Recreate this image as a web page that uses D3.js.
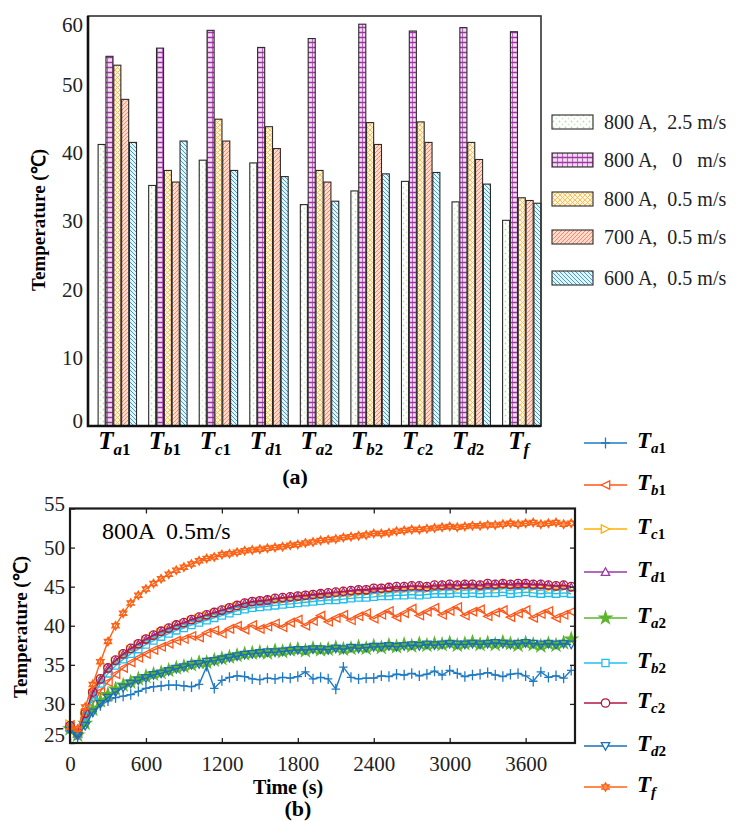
<!DOCTYPE html>
<html lang="en">
<head>
<meta charset="utf-8">
<title>Temperature: bars and time curves</title>
<style>
  body { margin: 0; background: #fff; }
</style>
</head>
<body>
<script src="https://cdn.jsdelivr.net/npm/d3@7"></script>
<script>
// ---- data, chart (a) ----
var barCats = ["a1", "b1", "c1", "d1", "a2", "b2", "c2", "d2", "f"];
var barNames = ["800 A,  2.5 m/s", "800 A,   0   m/s", "800 A,  0.5 m/s", "700 A,  0.5 m/s", "600 A,  0.5 m/s"];
var v800a25 = [41.2, 35.2, 38.9, 38.5, 32.4, 34.4, 35.8, 32.8, 30.1];
var v800a0  = [54.1, 55.3, 57.9, 55.4, 56.7, 58.8, 57.8, 58.3, 57.7];
var v800a05 = [52.8, 37.4, 44.9, 43.8, 37.4, 44.4, 44.5, 41.5, 33.4];
var v700a05 = [47.8, 35.7, 41.7, 40.6, 35.7, 41.2, 41.5, 39.0, 33.0];
var v600a05 = [41.5, 41.7, 37.4, 36.5, 32.9, 36.9, 37.1, 35.4, 32.6];
var barTicks = [0, 10, 20, 30, 40, 50, 60];

// ---- data, chart (b) ----
var times = [0,60,120,180,240,300,360,420,480,540,600,660,720,780,840,900,960,1020,1080,1140,
  1200,1260,1320,1380,1440,1500,1560,1620,1680,1740,1800,1860,1920,1980,2040,2100,2160,2220,2280,2340,
  2400,2460,2520,2580,2640,2700,2760,2820,2880,2940,3000,3060,3120,3180,3240,3300,3360,3420,3480,3540,
  3600,3660,3720,3780,3840,3900,3960];
var tA1 = [26.5,25.8,27.8,29.0,29.8,30.4,30.8,31.0,31.2,31.6,32.0,32.2,32.3,32.4,32.4,32.3,32.2,32.5,34.8,32.0,
  33.0,33.4,33.6,33.5,33.2,33.1,33.3,33.2,33.4,33.3,33.5,34.1,33.2,33.4,33.2,31.9,34.7,33.4,33.2,33.3,
  33.3,33.6,33.5,33.8,33.7,33.9,33.6,33.8,34.2,33.7,34.3,33.9,33.5,33.7,33.8,34.0,33.7,33.5,33.8,33.9,
  33.6,32.9,34.1,33.4,33.6,33.3,34.3];
var tB1 = [27.3,26.5,28.0,30.0,31.6,32.8,33.8,34.6,35.3,35.9,36.4,36.9,37.3,37.7,38.1,38.3,38.7,38.5,39.1,39.4,
  39.0,39.6,40.0,39.5,40.1,39.6,39.9,40.3,39.8,40.4,40.8,40.0,40.6,41.3,40.5,41.0,41.4,40.7,41.2,41.6,
  40.9,41.4,41.9,41.1,41.6,42.2,41.3,41.8,42.3,41.4,41.9,42.4,41.3,41.8,42.1,41.2,41.7,42.0,41.1,41.6,
  42.0,41.0,41.5,41.9,41.0,41.4,41.8];
var tC1 = [27.4,26.4,28.7,31.3,33.0,34.4,35.4,36.2,36.9,37.5,38.1,38.6,39.1,39.5,39.9,40.2,40.6,40.9,41.2,41.5,
  41.8,42.1,42.4,42.6,42.8,43.0,43.1,43.2,43.3,43.4,43.5,43.6,43.7,43.8,43.9,44.0,44.1,44.1,44.2,44.3,
  44.4,44.4,44.5,44.6,44.6,44.7,44.7,44.7,44.8,44.8,44.9,44.8,44.9,44.9,44.8,45.0,44.9,45.0,44.9,45.0,
  45.0,44.9,44.9,44.8,44.8,44.9,44.7];
var tD1 = [27.0,26.2,28.6,31.3,33.1,34.5,35.5,36.3,37.0,37.6,38.2,38.7,39.2,39.6,40.0,40.3,40.7,41.0,41.3,41.6,
  41.9,42.2,42.5,42.8,43.0,43.1,43.2,43.4,43.5,43.6,43.7,43.8,43.9,44.0,44.1,44.2,44.3,44.4,44.5,44.5,
  44.6,44.7,44.8,44.8,44.9,45.0,45.0,44.9,45.0,45.1,45.1,45.1,45.2,45.1,45.1,45.2,45.2,45.3,45.2,45.2,
  45.3,45.2,45.2,45.1,45.0,45.1,44.9];
var tA2 = [26.8,26.0,27.5,29.3,30.4,31.2,31.9,32.4,32.8,33.2,33.5,33.8,34.0,34.3,34.6,34.8,35.0,35.3,35.3,35.6,
  35.8,36.0,36.2,36.4,36.5,36.6,36.5,36.8,36.7,36.9,37.0,36.8,37.1,36.9,37.0,37.2,37.0,37.1,37.3,37.1,
  37.4,37.2,37.5,37.3,37.6,37.4,37.7,37.5,37.7,37.6,37.8,37.5,37.7,37.9,37.6,37.8,37.6,37.9,37.7,37.5,
  37.8,37.6,37.4,37.7,37.5,37.8,38.3];
var tB2 = [27.0,26.2,28.4,30.9,32.6,33.9,34.9,35.7,36.4,37.0,37.6,38.1,38.6,39.0,39.4,39.7,40.1,40.4,40.7,41.0,
  41.3,41.6,41.9,42.1,42.3,42.4,42.5,42.6,42.7,42.8,42.9,43.0,43.1,43.2,43.3,43.3,43.4,43.5,43.6,43.6,
  43.7,43.8,43.8,43.9,43.9,44.0,43.9,44.0,44.1,44.1,44.1,44.2,44.1,44.2,44.1,44.2,44.2,44.3,44.1,44.2,
  44.3,44.2,44.1,44.2,44.1,44.2,44.1];
var tC2 = [27.2,26.3,28.8,31.5,33.2,34.6,35.6,36.4,37.1,37.7,38.3,38.8,39.3,39.7,40.1,40.4,40.8,41.1,41.4,41.7,
  42.0,42.3,42.6,42.9,43.1,43.2,43.3,43.5,43.6,43.7,43.8,43.9,44.0,44.1,44.2,44.3,44.4,44.5,44.6,44.6,
  44.8,44.8,44.9,45.0,45.0,45.1,45.1,45.0,45.2,45.2,45.3,45.2,45.3,45.3,45.2,45.4,45.3,45.4,45.3,45.4,
  45.4,45.3,45.3,45.2,45.1,45.2,45.0];
var tD2 = [26.6,25.9,27.2,28.9,30.0,30.8,31.5,32.1,32.6,33.0,33.3,33.7,33.9,34.2,34.5,34.7,35.0,35.1,35.4,35.5,
  35.7,35.9,36.1,36.3,36.4,36.5,36.6,36.6,36.7,36.8,36.9,36.9,37.0,37.0,36.9,37.1,37.0,37.2,37.1,37.2,
  37.3,37.3,37.4,37.3,37.4,37.5,37.4,37.6,37.5,37.6,37.7,37.6,37.6,37.7,37.6,37.7,37.8,37.7,37.6,37.7,
  37.8,37.7,37.6,37.7,37.6,37.7,37.6];
var tF = [27.0,26.8,29.6,32.5,35.4,38.0,40.0,41.6,42.9,43.9,44.7,45.4,46.0,46.6,47.1,47.5,47.9,48.3,48.6,48.8,
  49.1,49.2,49.4,49.6,49.7,49.8,49.9,50.0,50.1,50.3,50.4,50.6,50.7,50.9,51.0,51.1,51.3,51.4,51.5,51.6,
  51.8,51.8,51.9,52.1,52.2,52.3,52.3,52.4,52.5,52.6,52.7,52.6,52.7,52.8,52.8,52.9,52.9,53.0,53.1,53.0,
  53.1,53.2,53.0,53.1,53.2,53.0,53.1];
var timeTicks = [0, 600, 1200, 1800, 2400, 3000, 3600];
var tempTicks = [25, 30, 35, 40, 45, 50, 55];

var serif = "'Liberation Serif', serif";
var w = 737, h = 821;
var svg = d3.select("body").append("svg")
  .attr("width", w).attr("height", h);

// ---- fill patterns for the bars ----
var defs = svg.append("defs");
function pat(id, size, bg) {
  var p = defs.append("pattern").attr("id", id)
    .attr("patternUnits", "userSpaceOnUse").attr("width", size).attr("height", size);
  p.append("rect").attr("width", size).attr("height", size).attr("fill", bg);
  return p;
}
var p0 = pat("p0", 6, "#ffffff");
p0.append("circle").attr("cx", 1.5).attr("cy", 1.5).attr("r", 0.9).attr("fill", "#b9dfa6");
p0.append("circle").attr("cx", 4.5).attr("cy", 4.5).attr("r", 0.9).attr("fill", "#d3ecc6");
var p1 = pat("p1", 5, "#f4dcf4");
p1.append("path").attr("d", "M2.5,0V5").attr("stroke", "#bb66be").attr("stroke-width", 1.1);
p1.append("path").attr("d", "M0,2.5H5").attr("stroke", "#9e37a3").attr("stroke-width", 1.5);
var p2 = pat("p2", 5, "#fff4de");
p2.append("path").attr("d", "M0,0L5,5M5,0L0,5").attr("stroke", "#ffbb4d").attr("stroke-width", 0.9);
var p3 = pat("p3", 4, "#ffdccf");
p3.append("path").attr("d", "M-1,1L1,-1M0,4L4,0M3,5L5,3").attr("stroke", "#fb7f57").attr("stroke-width", 0.9);
var p4 = pat("p4", 4, "#e4f4fb");
p4.append("path").attr("d", "M-1,3L1,5M0,0L4,4M3,-1L5,1").attr("stroke", "#2f9fd3").attr("stroke-width", 0.95);

var barSeries = [v800a25, v800a0, v800a05, v700a05, v600a05];
var barFills = ["url(#p0)", "url(#p1)", "url(#p2)", "url(#p3)", "url(#p4)"];

// ================= chart (a) =================
var A = { left: 88, right: 541, top: 16, bottom: 426 };
var x0 = d3.scaleBand().domain(barCats).range([A.left, A.right])
  .paddingInner(0.24).paddingOuter(0.1).align(1);
var x1 = d3.scaleBand().domain(d3.range(barSeries.length))
  .range([0, x0.bandwidth()]).paddingInner(0.1);
var yA = d3.scaleLinear().domain([0, 60]).range([A.bottom, A.top]);

var gA = svg.append("g");
barSeries.forEach(function(vals, j) {
  gA.append("g").selectAll("rect")
    .data(vals)
    .enter()
    .append("rect")
    .attr("x", function(d, i) { return x0(barCats[i]) + x1(j); })
    .attr("y", function(d) { return yA(d); })
    .attr("width", x1.bandwidth())
    .attr("height", function(d) { return yA(0) - yA(d); })
    .attr("fill", barFills[j])
    .attr("stroke", "#2a2a2a")
    .attr("stroke-width", 1.1);
});

// frame
gA.append("rect").attr("x", A.left).attr("y", A.top)
  .attr("width", A.right - A.left).attr("height", A.bottom - A.top)
  .attr("fill", "none").attr("stroke", "#333").attr("stroke-width", 1.6);
gA.append("path").attr("d", "M" + A.left + "," + A.top + "V" + A.bottom + "H" + A.right)
  .attr("fill", "none").attr("stroke", "#111").attr("stroke-width", 2.6);

// y tick labels
gA.selectAll(".ytl").data(barTicks).enter().append("text")
  .attr("x", A.left - 5)
  .attr("y", function(d) { return Math.max(25, Math.min(421, yA(d))); })
  .attr("dy", "0.35em").attr("text-anchor", "end")
  .attr("font-size", 21).attr("fill", "#222")
  .text(function(d) { return d; });

gA.append("text")
  .attr("transform", "translate(45," + 220 + ") rotate(-90)")
  .attr("text-anchor", "middle").attr("font-size", 19).attr("font-weight", "bold")
  .text("Temperature (℃)");

// category labels T with subscripts
function tLabel(sel, cat, bigSize, subSize) {
  sel.append("tspan").attr("font-style", "italic").attr("font-weight", "bold")
    .attr("font-size", bigSize).text("T");
  sel.append("tspan").attr("font-style", "italic").attr("font-weight", "bold")
    .attr("font-size", subSize).attr("dy", bigSize * 0.22).text(cat.charAt(0));
  if (cat.length > 1) {
    sel.append("tspan").attr("font-weight", "bold")
      .attr("font-size", subSize).text(cat.charAt(1));
  }
}
barCats.forEach(function(c) {
  var t = gA.append("text")
    .attr("x", x0(c) + x0.bandwidth() / 2 - 3).attr("y", 449)
    .attr("text-anchor", "middle");
  tLabel(t, c, 25, 17);
});

gA.append("text").attr("x", 295).attr("y", 484).attr("text-anchor", "middle")
  .attr("font-size", 22).attr("font-weight", "bold").text("(a)");

// legend (a)
var legA = svg.append("g");
barNames.forEach(function(n, j) {
  var cy = [122, 160, 199, 237, 278][j];
  legA.append("rect").attr("x", 552).attr("y", cy - 7).attr("width", 41).attr("height", 14)
    .attr("fill", barFills[j]).attr("stroke", "#2a2a2a").attr("stroke-width", 1.1);
  legA.append("text").attr("x", 604).attr("y", cy + 7)
    .attr("font-size", 20).attr("fill", "#222").style("white-space", "pre").text(n);
});

// ================= chart (b) =================
var B = { left: 70, right: 575, top: 508.5, bottom: 743 };
var xB = d3.scaleLinear().domain([0, 3990]).range([B.left, B.right]);
var yB = d3.scaleLinear().domain([25, 55]).range([B.bottom, B.top]);

var gB = svg.append("g");

function sym(type, r) {
  var k = 0.866;
  switch (type) {
    case "plus": return "M" + (-r) + ",0H" + r + "M0," + (-r - 1) + "V" + (r + 1);
    case "left": return "M" + (-r) + ",0L" + r + "," + (-r) + "L" + r + "," + r + "Z";
    case "right": return "M" + r + ",0L" + (-r) + "," + (-r) + "L" + (-r) + "," + r + "Z";
    case "up": return "M0," + (-r) + "L" + r + "," + (r * 0.8) + "L" + (-r) + "," + (r * 0.8) + "Z";
    case "down": return "M0," + r + "L" + r + "," + (-r * 0.8) + "L" + (-r) + "," + (-r * 0.8) + "Z";
    case "square": return "M" + (-r * 0.85) + "," + (-r * 0.85) + "h" + (1.7 * r) + "v" + (1.7 * r) + "h" + (-1.7 * r) + "Z";
    case "circle": return d3.symbol(d3.symbolCircle, Math.PI * r * r)();
    case "star": return d3.symbol(d3.symbolStar, r * r * 2.6)();
    case "hex": return "M0," + (-r) + "L" + (r * k) + "," + (r / 2) + "L" + (-r * k) + "," + (r / 2) + "Z" +
                       "M0," + r + "L" + (r * k) + "," + (-r / 2) + "L" + (-r * k) + "," + (-r / 2) + "Z";
  }
}

var curves = [
  { id: "a1", vals: tA1, color: "#1f7ac4", shape: "plus" },
  { id: "b1", vals: tB1, color: "#ff5618", shape: "left" },
  { id: "c1", vals: tC1, color: "#ffb000", shape: "right" },
  { id: "d1", vals: tD1, color: "#9a3aa5", shape: "up" },
  { id: "a2", vals: tA2, color: "#5cb52c", shape: "star" },
  { id: "b2", vals: tB2, color: "#22bfee", shape: "square" },
  { id: "c2", vals: tC2, color: "#b3163f", shape: "circle" },
  { id: "d2", vals: tD2, color: "#1a6fb6", shape: "down" },
  { id: "f",  vals: tF,  color: "#ff6214", shape: "hex" }
];

var line = d3.line()
  .x(function(d, i) { return xB(times[i]); })
  .y(function(d) { return yB(d); });

curves.forEach(function(c) {
  var g = gB.append("g");
  g.append("path").attr("d", line(c.vals))
    .attr("fill", "none").attr("stroke", c.color).attr("stroke-width", 1.4);
  g.selectAll("path.m").data(c.vals).enter().append("path")
    .attr("class", "m")
    .attr("transform", function(d, i) { return "translate(" + xB(times[i]) + "," + yB(d) + ")"; })
    .attr("d", sym(c.shape, 4.2))
    .attr("fill", c.shape === "star" ? c.color : "none")
    .attr("stroke", c.color).attr("stroke-width", 1.3);
});

// axes with inward ticks
function styleAxis(g) {
  g.attr("font-family", null).attr("font-size", null);
  g.select(".domain").remove();
  g.selectAll("line").attr("stroke", "#222").attr("stroke-width", 1.3);
  g.selectAll("text").attr("font-size", 21).attr("fill", "#222");
}
gB.append("g").attr("transform", "translate(0," + B.bottom + ")")
  .call(d3.axisBottom(xB).tickValues(timeTicks).tickFormat(d3.format("d"))
    .tickSizeInner(-5).tickSizeOuter(0).tickPadding(13))
  .call(styleAxis);
gB.append("g").attr("transform", "translate(0," + B.top + ")")
  .call(d3.axisTop(xB).tickValues(timeTicks.slice(1)).tickSizeInner(-5).tickSizeOuter(0).tickFormat(""))
  .call(styleAxis);
gB.append("g").attr("transform", "translate(" + B.left + ",0)")
  .call(d3.axisLeft(yB).tickValues(tempTicks).tickSizeInner(-5).tickSizeOuter(0).tickPadding(5))
  .call(styleAxis)
  .call(function(g) { g.selectAll("text")
      .attr("dy", function(d) { return d === 25 ? "-0.05em" : (d === 55 ? "0.1em" : "0.32em"); }); });
gB.append("g").attr("transform", "translate(" + B.right + ",0)")
  .call(d3.axisRight(yB).tickValues(tempTicks.slice(1, -1)).tickSizeInner(-5).tickSizeOuter(0).tickFormat(""))
  .call(styleAxis);

gB.append("rect").attr("x", B.left).attr("y", B.top)
  .attr("width", B.right - B.left).attr("height", B.bottom - B.top)
  .attr("fill", "none").attr("stroke", "#1a1a1a").attr("stroke-width", 2.2);

gB.append("text").attr("x", 102).attr("y", 539).attr("font-size", 24)
  .style("white-space", "pre").text("800A  0.5m/s");

gB.append("text")
  .attr("transform", "translate(27,627) rotate(-90)")
  .attr("text-anchor", "middle").attr("font-size", 19).attr("font-weight", "bold")
  .text("Temperature (℃)");
gB.append("text").attr("x", 288).attr("y", 794).attr("text-anchor", "middle")
  .attr("font-size", 20).attr("font-weight", "bold").text("Time (s)");
gB.append("text").attr("x", 298).attr("y", 816).attr("text-anchor", "middle")
  .attr("font-size", 22).attr("font-weight", "bold").text("(b)");

// legend (b)
var legRows = [443, 485, 529, 572, 618, 663, 703, 746, 787];
var legB = svg.append("g");
curves.forEach(function(c, i) {
  var cy = legRows[i];
  legB.append("line").attr("x1", 584).attr("x2", 627).attr("y1", cy).attr("y2", cy)
    .attr("stroke", c.color).attr("stroke-width", 1.3);
  legB.append("path").attr("transform", "translate(605.5," + cy + ")")
    .attr("d", sym(c.shape, c.shape === "plus" ? 4.5 : 4.2))
    .attr("fill", c.shape === "star" ? c.color : "#fff")
    .attr("stroke", c.color).attr("stroke-width", 1.3);
  var t = legB.append("text").attr("x", 637).attr("y", cy + 5);
  tLabel(t, c.id, 23, 15);
});

// every text in Times-like serif
svg.selectAll("text").style("font-family", serif);
</script>
</body>
</html>
